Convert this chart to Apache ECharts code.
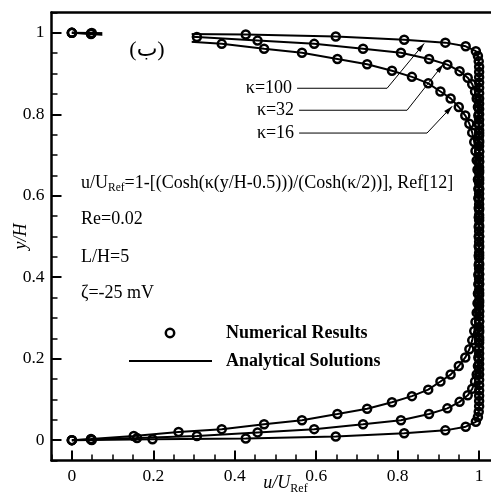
<!DOCTYPE html>
<html>
<head>
<meta charset="utf-8">
<script src="https://cdn.jsdelivr.net/npm/echarts@6/dist/echarts.min.js"></script>
<style>
  html, body { margin: 0; padding: 0; background: #fff; }
  #main { width: 491px; height: 495px; }
</style>
</head>
<body>
<div id="main"></div>
<script>
// tick labels
var xTicks = [0, 0.2, 0.4, 0.6, 0.8, 1];
var yTicks = [0, 0.2, 0.4, 0.6, 0.8, 1];

// numerical results / analytical profile, [u/URef, y/H]
var profK16 = [
  [0, 0], [0.047, 0.003], [0.152, 0.010], [0.262, 0.020], [0.368, 0.027], [0.472, 0.039],
  [0.565, 0.049], [0.652, 0.064], [0.725, 0.077], [0.786, 0.093], [0.835, 0.108], [0.875, 0.124],
  [0.905, 0.144], [0.930, 0.161], [0.950, 0.182], [0.966, 0.203], [0.976, 0.223], [0.983, 0.245],
  [0.988, 0.268], [0.991, 0.290], [0.994, 0.313], [0.996, 0.336], [0.997, 0.360], [0.998, 0.383],
  [0.998, 0.406], [0.999, 0.430], [0.999, 0.453], [0.999, 0.476], [0.999, 0.500], [0.999, 0.524],
  [0.999, 0.547], [0.999, 0.570], [0.998, 0.594], [0.998, 0.617], [0.997, 0.640], [0.996, 0.664],
  [0.994, 0.687], [0.991, 0.710], [0.988, 0.732], [0.983, 0.755], [0.976, 0.777], [0.966, 0.797],
  [0.950, 0.818], [0.930, 0.839], [0.905, 0.856], [0.875, 0.876], [0.835, 0.892], [0.786, 0.907],
  [0.725, 0.923], [0.652, 0.936], [0.565, 0.951], [0.472, 0.961], [0.368, 0.973], [0.262, 0.980],
  [0.152, 0.990], [0.047, 0.997], [0, 1]
];
var profK32 = [
  [0, 0], [0.047, 0.0015], [0.160, 0.005], [0.307, 0.010], [0.456, 0.019], [0.595, 0.027],
  [0.715, 0.039], [0.808, 0.049], [0.877, 0.064], [0.922, 0.078], [0.952, 0.094], [0.972, 0.110],
  [0.983, 0.126], [0.990, 0.144], [0.994, 0.161], [0.997, 0.182], [0.998, 0.203], [0.999, 0.223],
  [1, 0.246], [1, 0.269], [1, 0.292], [1, 0.315], [1, 0.338], [1, 0.361], [1, 0.384], [1, 0.407],
  [1, 0.430], [1, 0.454], [1, 0.477], [1, 0.500], [1, 0.523], [1, 0.546], [1, 0.570], [1, 0.593],
  [1, 0.616], [1, 0.639], [1, 0.662], [1, 0.685], [1, 0.708], [1, 0.731], [1, 0.754], [0.999, 0.777],
  [0.998, 0.797], [0.997, 0.818], [0.994, 0.839], [0.990, 0.856], [0.983, 0.874], [0.972, 0.890],
  [0.952, 0.906], [0.922, 0.922], [0.877, 0.936], [0.808, 0.951], [0.715, 0.961], [0.595, 0.973],
  [0.456, 0.981], [0.307, 0.990], [0.160, 0.995], [0.047, 0.9985], [0, 1]
];
var profK100 = [
  [0, 0], [0.049, 0.0005], [0.198, 0.002], [0.427, 0.004], [0.648, 0.009], [0.816, 0.017],
  [0.917, 0.024], [0.967, 0.033], [0.992, 0.045], [0.997, 0.057], [0.999, 0.070], [1, 0.083],
  [1, 0.096], [1, 0.109], [1, 0.122], [1, 0.135], [1, 0.148], [1, 0.161], [1, 0.174], [1, 0.187],
  [1, 0.200], [1, 0.213], [1, 0.226], [1, 0.239], [1, 0.252], [1, 0.265], [1, 0.278], [1, 0.291],
  [1, 0.304], [1, 0.317], [1, 0.330], [1, 0.343], [1, 0.356], [1, 0.369], [1, 0.382], [1, 0.395],
  [1, 0.408], [1, 0.421], [1, 0.434], [1, 0.447], [1, 0.460], [1, 0.473], [1, 0.487], [1, 0.500],
  [1, 0.513], [1, 0.527], [1, 0.540], [1, 0.553], [1, 0.566], [1, 0.579], [1, 0.592], [1, 0.605],
  [1, 0.618], [1, 0.631], [1, 0.644], [1, 0.657], [1, 0.670], [1, 0.683], [1, 0.696], [1, 0.709],
  [1, 0.722], [1, 0.735], [1, 0.748], [1, 0.761], [1, 0.774], [1, 0.787], [1, 0.800], [1, 0.813],
  [1, 0.826], [1, 0.839], [1, 0.852], [1, 0.865], [1, 0.878], [1, 0.891], [1, 0.904], [1, 0.917],
  [0.999, 0.930], [0.997, 0.943], [0.992, 0.955], [0.967, 0.967], [0.917, 0.976], [0.816, 0.983],
  [0.648, 0.991], [0.427, 0.996], [0.198, 0.998], [0.049, 0.9995], [0, 1]
];

// kappa labels and leader lines (data coords)
var kappaNotes = [
  { text: 'κ=100', start: [0.553, 0.864], elbow: [0.774, 0.864], tip: [0.865, 0.974] },
  { text: 'κ=32', start: [0.558, 0.810], elbow: [0.823, 0.810], tip: [0.912, 0.923] },
  { text: 'κ=16', start: [0.558, 0.754], elbow: [0.872, 0.754], tip: [0.934, 0.820] }
];

var FONT = 'Liberation Serif';

var chart = echarts.init(document.getElementById('main'), null, { renderer: 'canvas' });

function profile(name, data) {
  return {
    name: name,
    type: 'line',
    xAxisIndex: 0,
    yAxisIndex: 0,
    data: data,
    symbol: 'circle',
    symbolSize: 8,
    showAllSymbol: true,
    clip: false,
    itemStyle: { color: 'rgba(0,0,0,0)', borderColor: '#000', borderWidth: 2.5 },
    lineStyle: { color: '#000', width: 2 },
    emphasis: { disabled: true }
  };
}

var tickLabel = { color: '#000', fontFamily: FONT, fontSize: 17.5 };

var option = {
  animation: false,
  grid: { left: 51.5, top: 12.5, width: 448, height: 448, outerBoundsMode: 'none', containLabel: false },
  xAxis: [
    {
      type: 'value', position: 'bottom', min: -0.05, max: 1.05,
      axisLine: { onZero: false, lineStyle: { color: '#000', width: 2.5 } },
      axisTick: { inside: true, length: 10, customValues: xTicks, lineStyle: { color: '#000', width: 2 } },
      axisLabel: Object.assign({ customValues: xTicks, margin: 7 }, tickLabel),
      splitLine: { show: false },
      name: 'u/U{s|Ref}',
      nameLocation: 'middle',
      nameGap: 12,
      nameMoveOverlap: false,
      nameTextStyle: {
        color: '#000', fontFamily: FONT, fontSize: 18, fontStyle: 'italic', padding: [0, 0, 0, 20],
        verticalAlign: 'top',
        rich: { s: { fontFamily: FONT, fontSize: 12, fontStyle: 'normal', color: '#000', padding: [10, 0, 0, 0] } }
      }
    },
    {
      type: 'value', position: 'bottom', min: -0.05, max: 1.05, interval: 0.05,
      axisLine: { show: false, onZero: false },
      axisTick: { inside: true, length: 6, lineStyle: { color: '#000', width: 1.5 } },
      axisLabel: { show: false },
      splitLine: { show: false }
    },
    {
      type: 'value', position: 'top', min: -0.05, max: 1.05,
      axisLine: { onZero: false, lineStyle: { color: '#000', width: 2.5 } },
      axisTick: { show: false },
      axisLabel: { show: false },
      splitLine: { show: false }
    }
  ],
  yAxis: [
    {
      type: 'value', position: 'left', min: -0.05, max: 1.05,
      axisLine: { onZero: false, lineStyle: { color: '#000', width: 2.5 } },
      axisTick: { inside: true, length: 10, customValues: yTicks, lineStyle: { color: '#000', width: 2 } },
      axisLabel: Object.assign({ customValues: yTicks, margin: 7 }, tickLabel),
      splitLine: { show: false },
      name: 'y/H',
      nameLocation: 'middle',
      nameGap: 21,
      nameMoveOverlap: false,
      nameTextStyle: { color: '#000', fontFamily: FONT, fontSize: 18, fontStyle: 'italic' }
    },
    {
      type: 'value', position: 'left', min: -0.05, max: 1.05, interval: 0.05,
      axisLine: { show: false, onZero: false },
      axisTick: { inside: true, length: 6, lineStyle: { color: '#000', width: 1.5 } },
      axisLabel: { show: false },
      splitLine: { show: false }
    },
    {
      type: 'value', position: 'right', min: -0.05, max: 1.05,
      axisLine: { onZero: false, lineStyle: { color: '#000', width: 2.5 } },
      axisTick: { show: false },
      axisLabel: { show: false },
      splitLine: { show: false }
    }
  ],
  series: [
    profile('κ=16', profK16),
    profile('κ=32', profK32),
    profile('κ=100', profK100)
  ]
};

chart.setOption(option);

// annotations
var graphics = [];
function px(p) { return chart.convertToPixel({ xAxisIndex: 0, yAxisIndex: 0 }, p); }

kappaNotes.forEach(function (n) {
  var a = px(n.start), b = px(n.elbow), c = px(n.tip);
  graphics.push({
    type: 'text', x: a[0] - 5, y: a[1], z: 50,
    style: { text: n.text, fill: '#000', font: '18px "' + FONT + '"', align: 'right', verticalAlign: 'middle' }
  });
  graphics.push({
    type: 'polyline', z: 50,
    shape: { points: [a, b, c] },
    style: { stroke: '#000', lineWidth: 1, fill: null }
  });
  // arrow head
  var dx = c[0] - b[0], dy = c[1] - b[1];
  var len = Math.sqrt(dx * dx + dy * dy);
  var ux = dx / len, uy = dy / len;
  var hl = 9, hw = 2.6;
  var bx = c[0] - ux * hl, by = c[1] - uy * hl;
  graphics.push({
    type: 'polygon', z: 51,
    shape: { points: [c, [bx - uy * hw, by + ux * hw], [bx + uy * hw, by - ux * hw]] },
    style: { fill: '#000' }
  });
});

// panel tag (boxed, hides lines behind it)
graphics.push({
  type: 'text', x: 147, y: 50, z: 60,
  style: {
    text: '(ب)', fill: '#000', font: '22px "' + FONT + '", "DejaVu Sans"',
    align: 'center', verticalAlign: 'middle',
    backgroundColor: '#fff', padding: [14, 27, 12, 27]
  }
});

function note(txt, y, extra) {
  var s = { text: txt, fill: '#000', fontFamily: FONT, fontSize: 18, align: 'left', verticalAlign: 'middle' };
  if (extra) Object.assign(s, extra);
  return { type: 'text', x: 81, y: y, z: 50, style: s };
}
graphics.push(note('u/U{s|Ref}=1-[(Cosh(κ(y/H-0.5)))/(Cosh(κ/2))], Ref[12]', 183, {
  rich: { s: { fontFamily: FONT, fontSize: 11.5, fill: '#000', padding: [10, 0, 0, 0] } }
}));
graphics.push(note('Re=0.02', 219));
graphics.push(note('L/H=5', 257));
graphics.push(note('ζ=-25 mV', 293));

// legend
graphics.push({
  type: 'circle', z: 50, shape: { cx: 170, cy: 333, r: 4.2 },
  style: { fill: null, stroke: '#000', lineWidth: 2.5 }
});
graphics.push({
  type: 'line', z: 50, shape: { x1: 129, y1: 361, x2: 212, y2: 361 },
  style: { stroke: '#000', lineWidth: 2 }
});
graphics.push({
  type: 'text', x: 226, y: 333, z: 50,
  style: { text: 'Numerical Results', fill: '#000', fontFamily: FONT, fontSize: 18, fontWeight: 'bold', verticalAlign: 'middle' }
});
graphics.push({
  type: 'text', x: 226, y: 361, z: 50,
  style: { text: 'Analytical Solutions', fill: '#000', fontFamily: FONT, fontSize: 18, fontWeight: 'bold', verticalAlign: 'middle' }
});

chart.setOption({ graphic: graphics });

window.addEventListener('resize', function () {
  chart.resize();
});
</script>
</body>
</html>
